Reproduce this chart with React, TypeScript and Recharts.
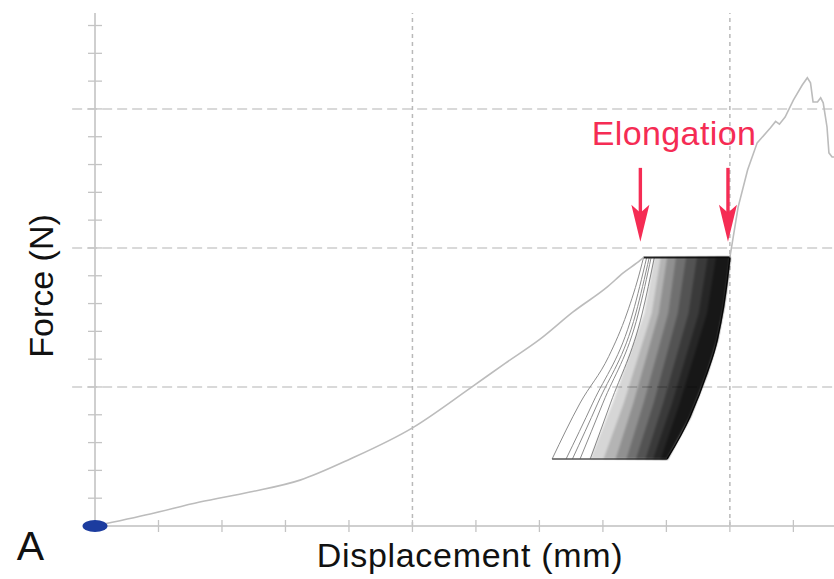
import React from "react";
import { ComposedChart, Line, Scatter, XAxis, YAxis, ReferenceLine, ReferenceDot } from "recharts";

// Displacement (mm) and force (N): one unit per minor tick, dashed grid every 5 units
const xTicks = [1, 2, 3, 4, 5, 6, 7, 8, 9, 10, 11];
const yTicks = [1, 2, 3, 4, 5, 6, 7, 8, 9, 10, 11, 12, 13, 14, 15, 16, 17, 18];
const xGrid = [5, 10];
const yGrid = [5, 10, 15];

// first loading up to the cyclic plateau
const loadingCurve = [
	{ x: 0, y: 0 },
	{ x: 0.87, y: 0.43 },
	{ x: 1.65, y: 0.86 },
	{ x: 2.44, y: 1.22 },
	{ x: 3.23, y: 1.65 },
	{ x: 4.02, y: 2.41 },
	{ x: 5.0, y: 3.53 },
	{ x: 5.91, y: 4.96 },
	{ x: 6.46, y: 5.85 },
	{ x: 7.01, y: 6.72 },
	{ x: 7.53, y: 7.7 },
	{ x: 8.07, y: 8.6 },
	{ x: 8.32, y: 9.1 },
	{ x: 8.59, y: 9.56 },
	{ x: 8.64, y: 9.66 },
];

// loading to failure after the cycles
const failureCurve = [
	{ x: 10.0, y: 9.66 },
	{ x: 10.13, y: 11.47 },
	{ x: 10.28, y: 12.81 },
	{ x: 10.43, y: 13.78 },
	{ x: 10.64, y: 14.32 },
	{ x: 10.72, y: 14.55 },
	{ x: 10.78, y: 14.45 },
	{ x: 10.87, y: 14.71 },
	{ x: 11.0, y: 15.32 },
	{ x: 11.14, y: 15.86 },
	{ x: 11.22, y: 16.12 },
	{ x: 11.27, y: 15.94 },
	{ x: 11.31, y: 15.25 },
	{ x: 11.38, y: 15.25 },
	{ x: 11.43, y: 15.4 },
	{ x: 11.47, y: 15.22 },
	{ x: 11.53, y: 14.35 },
	{ x: 11.56, y: 13.42 },
	{ x: 11.61, y: 13.27 },
	{ x: 11.64, y: 13.27 },
];

// cyclic loading band
const plateauTop = [
	{ x: 8.64, y: 9.66 },
	{ x: 10.0, y: 9.66 },
];
const plateauBottom = [
	{ x: 7.2, y: 2.41 },
	{ x: 9.01, y: 2.41 },
];
// last cycle, top -> bottom
const lastCycleEdge = [
	{ x: 10.0, y: 9.66 },
	{ x: 9.96, y: 8.85 },
	{ x: 9.9, y: 7.88 },
	{ x: 9.8, y: 6.69 },
	{ x: 9.64, y: 5.5 },
	{ x: 9.37, y: 3.92 },
	{ x: 9.01, y: 2.41 },
];
// early single cycles, bottom -> top
const earlyCycles = [
	[{ x: 7.2, y: 2.41 }, { x: 7.64, y: 4.42 }, { x: 8.09, y: 6.09 }, { x: 8.38, y: 7.66 }, { x: 8.59, y: 9.21 }, { x: 8.64, y: 9.66 }],
	[{ x: 7.42, y: 2.41 }, { x: 7.84, y: 4.42 }, { x: 8.47, y: 7.66 }, { x: 8.69, y: 9.66 }],
	[{ x: 7.52, y: 2.41 }, { x: 7.92, y: 4.42 }, { x: 8.52, y: 7.66 }, { x: 8.73, y: 9.66 }],
	[{ x: 7.64, y: 2.41 }, { x: 8.0, y: 4.42 }, { x: 8.56, y: 7.66 }, { x: 8.76, y: 9.66 }],
	[{ x: 7.8, y: 2.41 }, { x: 8.12, y: 4.42 }, { x: 8.62, y: 7.66 }, { x: 8.81, y: 9.66 }],
];
// where the overlapping cycles get denser, bottom -> top
const denseFronts = [
	[{ x: 7.8, y: 2.41 }, { x: 8.15, y: 4.42 }, { x: 8.65, y: 7.66 }, { x: 8.81, y: 9.66 }],
	[{ x: 8.01, y: 2.41 }, { x: 8.33, y: 4.42 }, { x: 8.77, y: 7.66 }, { x: 8.91, y: 9.66 }],
	[{ x: 8.2, y: 2.41 }, { x: 8.48, y: 4.42 }, { x: 8.88, y: 7.66 }, { x: 9.01, y: 9.66 }],
	[{ x: 8.37, y: 2.41 }, { x: 8.64, y: 4.42 }, { x: 9.03, y: 7.66 }, { x: 9.15, y: 9.66 }],
	[{ x: 8.52, y: 2.41 }, { x: 8.8, y: 4.42 }, { x: 9.18, y: 7.66 }, { x: 9.31, y: 9.66 }],
	[{ x: 8.67, y: 2.41 }, { x: 8.95, y: 4.42 }, { x: 9.35, y: 7.66 }, { x: 9.48, y: 9.66 }],
	[{ x: 8.79, y: 2.41 }, { x: 9.09, y: 4.42 }, { x: 9.51, y: 7.66 }, { x: 9.65, y: 9.66 }],
	[{ x: 8.91, y: 2.41 }, { x: 9.21, y: 4.42 }, { x: 9.64, y: 7.66 }, { x: 9.78, y: 9.66 }],
];
const denseOpacity = [0.16, 0.16, 0.2, 0.22, 0.26, 0.3, 0.34, 0.4];

const arrowX = [8.59, 9.97];
const arrowFromY = 12.88;
const arrowToY = 10.22;

const RED = "#f52c54";
const AXIS = "#cfcfcf";
const CURVE = "#bcbcbc";

const YTick = (p: any) => (
	<line x1={p.x - 7} x2={p.x + 7} y1={p.y} y2={p.y} stroke="#c4c4c4" strokeWidth={1.3} />
);
const XTick = (p: any) => (
	<line x1={p.x} x2={p.x} y1={p.y - 6} y2={p.y + 6} stroke="#c4c4c4" strokeWidth={1.3} />
);

const Arrow = (p: any) => {
	const { x1, y1, x2, y2 } = p;
	return (
		<g>
			<line x1={x1} y1={y1} x2={x2} y2={y2 - 28} stroke={RED} strokeWidth={3.4} />
			<polygon
				points={`${x2},${y2} ${x2 - 9},${y2 - 37} ${x2},${y2 - 29} ${x2 + 9},${y2 - 37}`}
				fill={RED}
			/>
		</g>
	);
};

const bandShape = (opacity: number) => (p: any) => {
	const pts = p.points as { x: number; y: number }[];
	const d = "M" + pts.map((q) => `${q.x},${q.y}`).join("L") + "Z";
	return <path d={d} fill="#000" fillOpacity={opacity} stroke="none" filter="url(#soften)" />;
};

const noDot = () => <g />;

export default function App() {
	return (
		<div style={{ position: "absolute", left: 0, top: 0, width: 834, height: 579, background: "#fff" }}>
			<ComposedChart width={834} height={579} margin={{ top: 13, right: 0, bottom: 52, left: 94 }}>
				<defs>
					<filter id="soften" x="-10%" y="-10%" width="120%" height="120%">
						<feGaussianBlur stdDeviation="1" />
					</filter>
				</defs>
				<XAxis
					type="number"
					dataKey="x"
					domain={[0, 11.64]}
					ticks={xTicks}
					height={1}
					tickSize={0}
					tickMargin={0}
					tickLine={false}
					tick={<XTick />}
					axisLine={{ stroke: AXIS, strokeWidth: 2 }}
				/>
				<YAxis
					type="number"
					dataKey="y"
					domain={[0, 18.45]}
					ticks={yTicks}
					width={1}
					tickSize={0}
					tickMargin={0}
					tickLine={false}
					tick={<YTick />}
					axisLine={{ stroke: AXIS, strokeWidth: 2 }}
				/>
				{yGrid.map((g) => (
					<ReferenceLine
						key={`h${g}`}
						segment={[
							{ x: -0.36, y: g },
							{ x: 11.64, y: g },
						]}
						ifOverflow="visible"
						stroke="#cdcdcd"
						strokeWidth={1.5}
						strokeDasharray="10 5"
					/>
				))}
				{xGrid.map((g) => (
					<ReferenceLine key={`v${g}`} x={g} stroke="#b9b9b9" strokeWidth={1.5} strokeDasharray="4 4" />
				))}

				{denseFronts.map((front, i) => (
					<Scatter
						key={`dense${i}`}
						data={[...front, ...lastCycleEdge]}
						shape={noDot}
						line={bandShape(denseOpacity[i])}
						isAnimationActive={false}
					/>
				))}
				{earlyCycles.map((c, i) => (
					<Line
						key={`cyc${i}`}
						data={c}
						dataKey="y"
						type="monotone"
						stroke="#8c8c8c"
						strokeWidth={1}
						dot={false}
						isAnimationActive={false}
					/>
				))}
				<Line data={lastCycleEdge} dataKey="y" type="monotone" stroke="#111" strokeWidth={1.5} dot={false} isAnimationActive={false} />
				<Line data={plateauTop} dataKey="y" stroke="#222" strokeWidth={2} dot={false} isAnimationActive={false} />
				<Line data={plateauBottom} dataKey="y" stroke="#555" strokeWidth={1.5} dot={false} isAnimationActive={false} />
				<Line data={loadingCurve} dataKey="y" type="monotone" stroke={CURVE} strokeWidth={1.6} dot={false} isAnimationActive={false} />
				<Line data={failureCurve} dataKey="y" type="linear" stroke={CURVE} strokeWidth={1.6} dot={false} isAnimationActive={false} />

				{arrowX.map((ax) => (
					<ReferenceLine
						key={`a${ax}`}
						segment={[
							{ x: ax, y: arrowFromY },
							{ x: ax, y: arrowToY },
						]}
						shape={Arrow}
					/>
				))}
				<ReferenceDot
					x={0}
					y={0}
					ifOverflow="visible"
					shape={(p: any) => <ellipse cx={p.cx} cy={p.cy} rx={12.5} ry={6} fill="#1c3c9f" />}
				/>
			</ComposedChart>
			<svg
				width={834}
				height={579}
				style={{ position: "absolute", left: 0, top: 0, pointerEvents: "none" }}
				fontFamily="'Liberation Sans', Arial, sans-serif"
			>
				<text x={674} y={145} fontSize={34} letterSpacing={0.4} fill={RED} textAnchor="middle">
					Elongation
				</text>
				<text x={53} y={286} fontSize={34} fill="#111" textAnchor="middle" transform="rotate(-90 53 286)">
					Force (N)
				</text>
				<text x={470} y={567} fontSize={34} letterSpacing={0.7} fill="#111" textAnchor="middle">
					Displacement (mm)
				</text>
				<text x={30.5} y={560} fontSize={41} fill="#111" textAnchor="middle">
					A
				</text>
			</svg>
		</div>
	);
}
